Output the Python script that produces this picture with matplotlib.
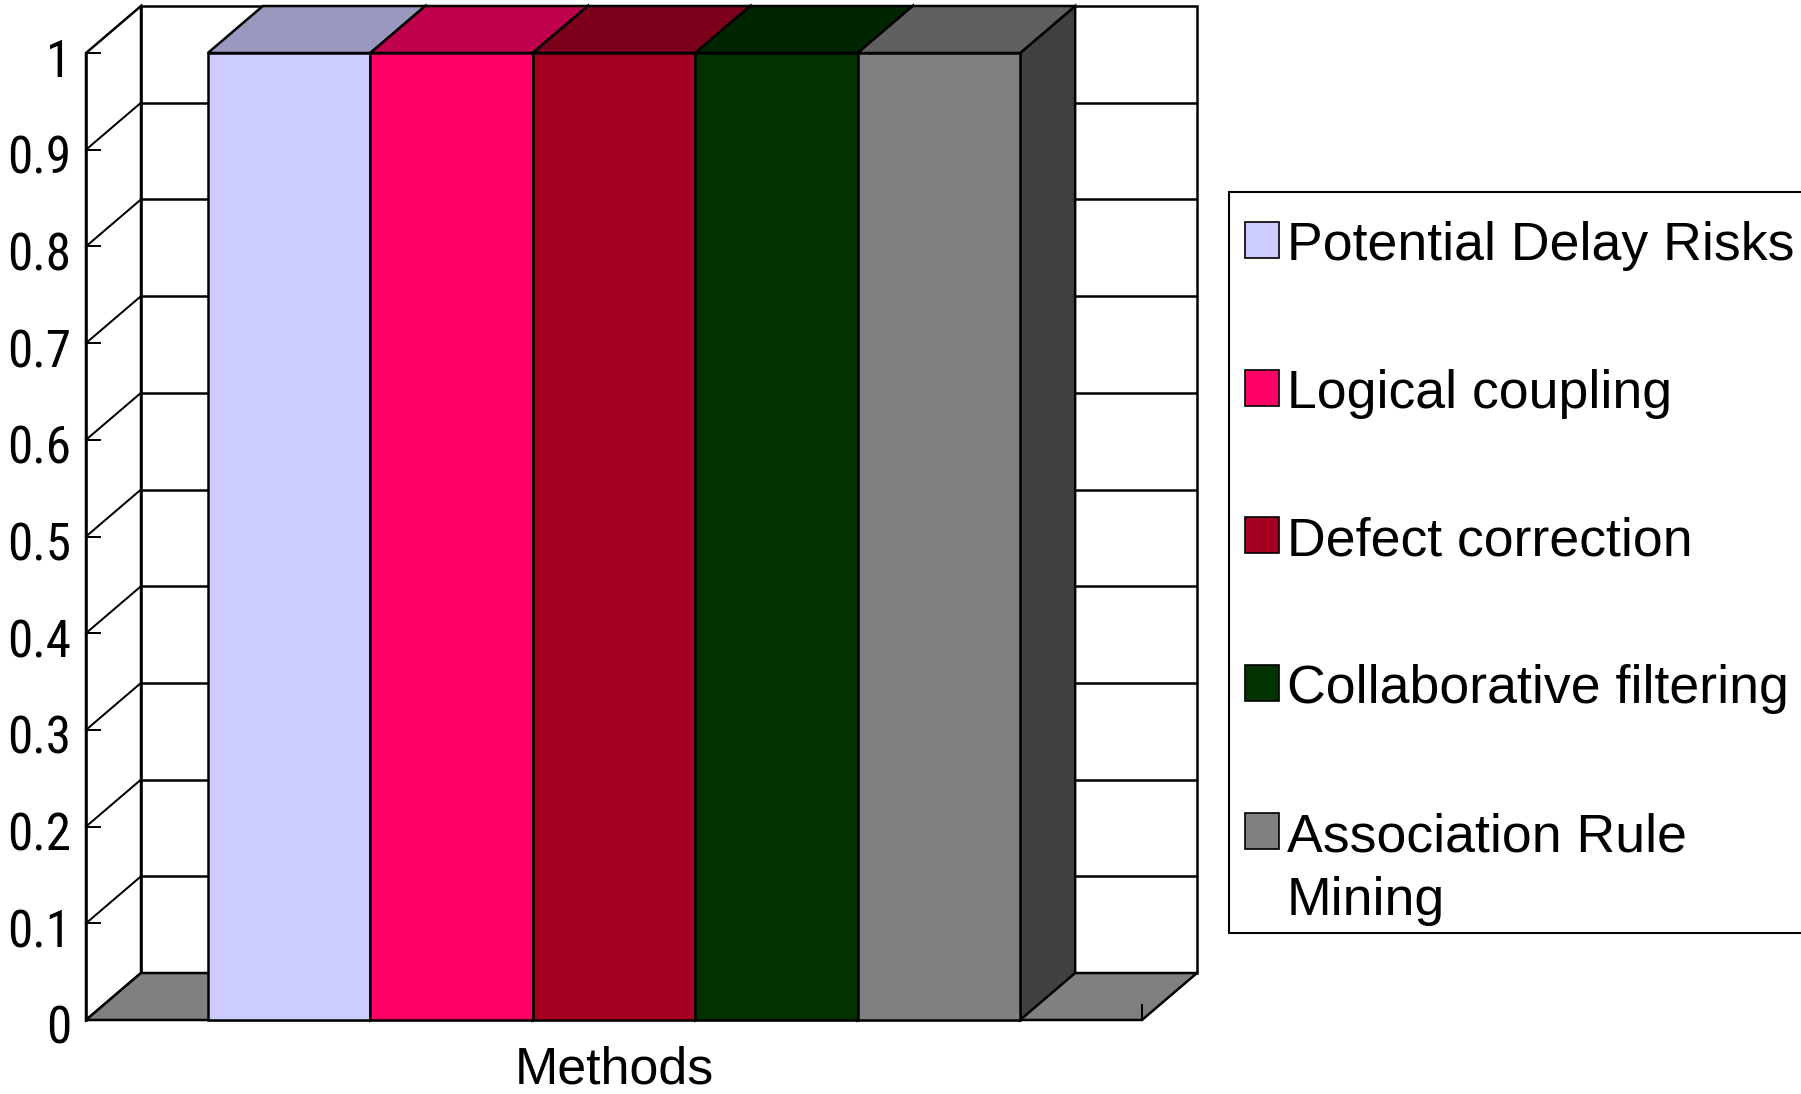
import numpy as np
import matplotlib
matplotlib.use("Agg")
import matplotlib.pyplot as plt
from matplotlib import font_manager as fm
from matplotlib.patches import Polygon, Rectangle

# ── Data ──────────────────────────────────────────────────────────────────────
series_names = ["Potential Delay Risks", "Logical coupling", "Defect correction",
                "Collaborative filtering", "Association Rule\nMining"]
series_values = [1.0, 1.0, 1.0, 1.0, 1.0]
front_colors = ["#CCCCFF", "#FF0066", "#A50021", "#003300", "#808080"]
top_colors = ["#9999BF", "#BF004C", "#7C0019", "#002600", "#606060"]
side_colors = ["#666680", "#800033", "#530011", "#001A00", "#404040"]
category_label = "Methods"
y_ticks = [0, 0.1, 0.2, 0.3, 0.4, 0.5, 0.6, 0.7, 0.8, 0.9, 1]
y_ticklabels = ["0", "0.1", "0.2", "0.3", "0.4", "0.5", "0.6", "0.7", "0.8", "0.9", "1"]

FP = fm.FontProperties(family=["Liberation Sans", "DejaVu Sans"])


def pick_narrow_font():
    # narrow face for the tick numbers, if one is installed
    narrow = []
    for f in fm.fontManager.ttflist:
        nm = f.name.lower()
        st = str(f.stretch).lower()
        if f.weight in (400, "normal", "regular") and f.style == "normal":
            if "narrow" in nm or "condensed" in nm or "condensed" in st or "narrow" in st:
                narrow.append(f)
    for want in ["liberation sans narrow", "roboto condensed", "dejavu sans",
                 "open sans", "noto sans", "roboto"]:
        for f in narrow:
            if f.name.lower().startswith(want):
                return fm.FontProperties(fname=f.fname), True
    return FP, False


FP_TICK, have_narrow = pick_narrow_font()

W, H = 1801, 1094
fig = plt.figure(figsize=(W / 100, H / 100), dpi=100)
renderer = fig.canvas.get_renderer()


def text_width(s, size, fp):
    t = fig.text(0, 0, s, fontproperties=fp, fontsize=size)
    w = t.get_window_extent(renderer).width
    t.remove()
    return w


# size the text so the longest legend entry spans about 506 px
FS = 38.0 * 506.0 / text_width("Potential Delay Risks", 38.0, FP)
# tick numbers: "0.9" spans about 64 px
FS_TICK = min(39.0, 39.0 * 64.0 / text_width("0.9", 39.0, FP_TICK))

# front plane in pixels: category axis 86..1142, value 0 at y=1020, 1 at y=53
FX0, FX1, FY0, FY1 = 86, 1142, 1020, 53
DX_PX, DY_PX = 55, 47
sx = FX1 - FX0
sy = FY0 - FY1
ax = fig.add_axes([FX0 / W, (H - FY0) / H, (sx + DX_PX) / W, (sy + DY_PX) / H])
ax.set_xlim(0, (sx + DX_PX) / sx)
ax.set_ylim(0, (sy + DY_PX) / sy)
ax.axis("off")

dx = DX_PX / sx          # depth offset in category units
dy = DY_PX / sy          # depth offset in value units
LW = 1.8


def poly(pts, fc, z, lw=LW):
    ax.add_patch(Polygon(pts, closed=True, facecolor=fc, edgecolor="black",
                         linewidth=lw, joinstyle="miter", zorder=z, clip_on=False))


# walls and floor
poly([(dx, dy), (1 + dx, dy), (1 + dx, 1 + dy), (dx, 1 + dy)], "white", 1)
poly([(0, 0), (dx, dy), (dx, 1 + dy), (0, 1)], "white", 1)
poly([(0, 0), (1, 0), (1 + dx, dy), (dx, dy)], "#808080", 2)

# gridlines on back and side walls
for t in y_ticks[1:-1]:
    ax.plot([dx, 1 + dx], [t + dy, t + dy], color="black", lw=LW, zorder=1.5,
            clip_on=False, solid_capstyle="butt")
    ax.plot([0, dx], [t, t + dy], color="black", lw=LW * 0.8, zorder=1.5, clip_on=False)

# value axis ticks (pointing inward) and labels
tick_len = 14 / sx
for t, lab in zip(y_ticks, y_ticklabels):
    ax.plot([0, tick_len], [t, t], color="black", lw=LW * 0.8, zorder=1.6, clip_on=False)
    ax.text(-15 / sx, t - 24 / sy, lab, ha="right", va="baseline", fontproperties=FP_TICK,
            fontsize=FS_TICK, zorder=5)
ax.plot([0, 0], [0, 1], color="black", lw=LW, zorder=1.6, clip_on=False)

# category tick at the right end of the floor
ax.plot([1, 1], [0, 15 / sy], color="black", lw=LW * 0.8, zorder=2.5, clip_on=False)

# bars: gap width 150% split on both sides of the group
n = len(series_values)
bw = 1.0 / (n + 1.5)
for i, (v, fc, tc, sc) in enumerate(zip(series_values, front_colors, top_colors, side_colors)):
    x0 = 0.75 * bw + i * bw
    poly([(x0 + bw, 0), (x0 + bw + dx, dy), (x0 + bw + dx, v + dy), (x0 + bw, v)], sc, 3 + i * 0.1)
    poly([(x0, v), (x0 + bw, v), (x0 + bw + dx, v + dy), (x0 + dx, v + dy)], tc, 3 + i * 0.1)
    ax.add_patch(Rectangle((x0, 0), bw, v, facecolor=fc, edgecolor="black", linewidth=LW,
                           zorder=3 + i * 0.1 + 0.05, clip_on=False))

ax.text(0.5, -63 / sy, category_label, ha="center", va="baseline", fontproperties=FP,
        fontsize=FS * 0.97, zorder=5)


# legend panel (pixel positions measured from the top-left corner)
def fx(px):
    return px / W


def fy(py):
    return 1 - py / H


fig.patches.append(Rectangle((fx(1229), fy(933)), fx(1830) - fx(1229), fy(192) - fy(933),
                             transform=fig.transFigure, facecolor="white",
                             edgecolor="black", linewidth=1.5))
row_top = [222, 370, 517, 665, 813]
for name, fc, top in zip(series_names, front_colors, row_top):
    fig.patches.append(Rectangle((fx(1245), fy(top + 36)), fx(34), 36 / H,
                                 transform=fig.transFigure, facecolor=fc,
                                 edgecolor="black", linewidth=1.2))
    for k, line in enumerate(name.split("\n")):
        fig.text(fx(1287), fy(top + 38 + 64 * k), line, ha="left", va="baseline",
                 fontproperties=FP, fontsize=FS)

fig.savefig("out.png", dpi=100)
